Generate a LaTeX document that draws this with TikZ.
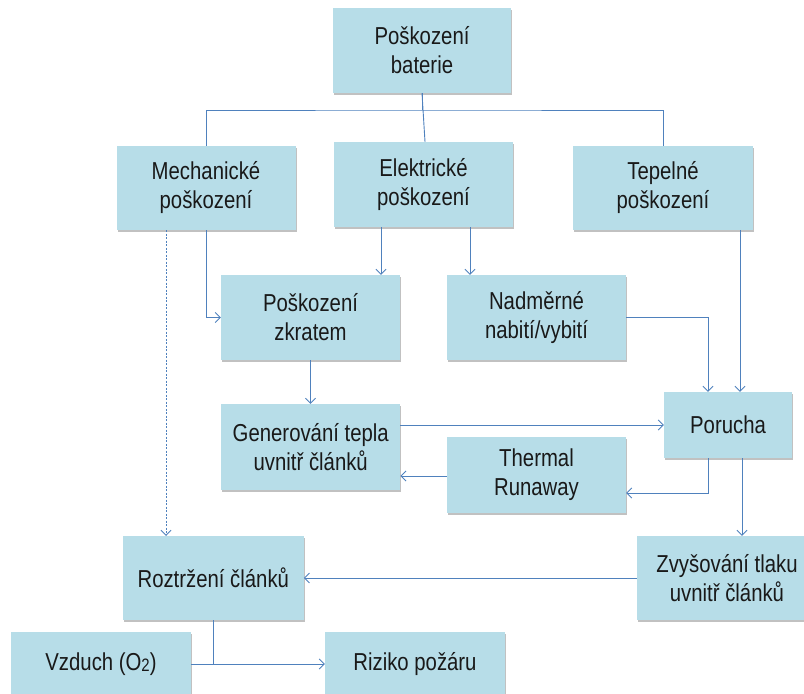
\documentclass[tikz,border=0pt]{standalone}
\usepackage{fontspec}
\setmainfont[FakeStretch=0.83]{Liberation Sans}
\usetikzlibrary{arrows.meta,shadows}
\definecolor{boxfill}{HTML}{B7DDE8}
\definecolor{linecol}{HTML}{4F81BD}
\begin{document}
\begin{tikzpicture}[x=1pt,y=-1pt,
  box/.style={fill=boxfill, minimum width=179pt, minimum height=84pt,
    align=center, inner sep=0pt, text=black!90,
    font=\fontsize{24.5}{29}\selectfont,
    drop shadow={shadow xshift=1.2pt, shadow yshift=-2pt, opacity=0.35, fill=black!70}},
  link/.style={draw=linecol, line width=0.9pt},
  arr/.style={link, -{Straight Barb[length=5pt,width=10pt,line width=0.9pt]}},
  dotarr/.style={arr, dash pattern=on 2pt off 1.5pt}]
\useasboundingbox (0,0) rectangle (804,694);

% boxes
\node[box, minimum width=178pt, minimum height=85pt] (top) at (422,50.5) {Poškození\\baterie};
\node[box] (mech) at (206,188) {Mechanické\\poškození};
\node[box, minimum height=85pt] (elek) at (423.5,184.5) {Elektrické\\poškození};
\node[box, minimum width=180pt] (tep) at (663,188) {Tepelné\\poškození};
\node[box, minimum height=85pt] (zkrat) at (310.5,317.5) {Poškození\\zkratem};
\node[box, minimum height=85pt] (nadm) at (536.5,317.5) {Nadměrné\\nabití/vybití};
\node[box, minimum height=86pt] (gen) at (310.75,447) {Generování tepla\\uvnitř článků};
\node[box, minimum height=76pt] (therm) at (536.5,475) {Thermal\\Runaway};
\node[box, minimum width=128pt, minimum height=66pt] (poruch) at (728,425) {Porucha};
\node[box, minimum width=180.6pt] (roztr) at (213.3,578) {Roztržení článků};
\node[box, minimum width=180pt] (zvys) at (727,578) {Zvyšování tlaku\\uvnitř článků};
\node[box, minimum width=180pt, minimum height=64pt] (vzduch) at (101,664)
  {Vzduch (O\raisebox{-1pt}{\fontsize{18}{18}\selectfont 2})};
\node[box, minimum width=180pt, minimum height=64pt] (riziko) at (415,664) {Riziko požáru};

% tree from the top box
\coordinate (bus) at (422,110);
\draw[link] (top.south) -- (bus);
\draw[link] (mech.north) |- (bus) -| (tep.north);
\draw[link] (top.south) -- ([xshift=1.5pt]elek.north);

% electrical branch
\draw[arr] ([xshift=-42.5pt]elek.south) -- ([xshift=-42.5pt]elek.south |- zkrat.north);
\draw[arr] ([xshift=46.5pt]elek.south) -- ([xshift=46.5pt]elek.south |- nadm.north);

% mechanical branch
\draw[arr] (mech.south) |- (zkrat.west);
\draw[dotarr] ([xshift=-40pt]mech.south) -- ([xshift=-40pt]mech.south |- roztr.north);

% thermal branch
\draw[arr] ([xshift=77pt]tep.south) -- ([xshift=77pt]tep.south |- poruch.north);

% overcharge to failure
\draw[arr] (nadm.east) -| ([xshift=-20pt]poruch.north);

% short circuit to heat
\draw[arr] (zkrat.south) -- (zkrat.south |- gen.north);

% heat / failure / runaway loop
\draw[arr] (gen.east |- poruch.west) -- (poruch.west);
\draw[arr] (therm.west |- 0,476) -- (gen.east |- 0,476);
\coordinate (rw) at (708,493);
\draw[arr] ([xshift=-20pt]poruch.south) -- (rw) -- (therm.east |- rw);

% pressure and rupture
\draw[arr] ([xshift=14pt]poruch.south) -- ([xshift=14pt]poruch.south |- zvys.north);
\draw[arr] (zvys.west) -- (roztr.east);

% rupture with air leads to fire risk
\coordinate (join) at (roztr.south |- vzduch.east);
\draw[link] (roztr.south) -- (join);
\draw[arr] (vzduch.east) -- (riziko.west);
\end{tikzpicture}
\end{document}
